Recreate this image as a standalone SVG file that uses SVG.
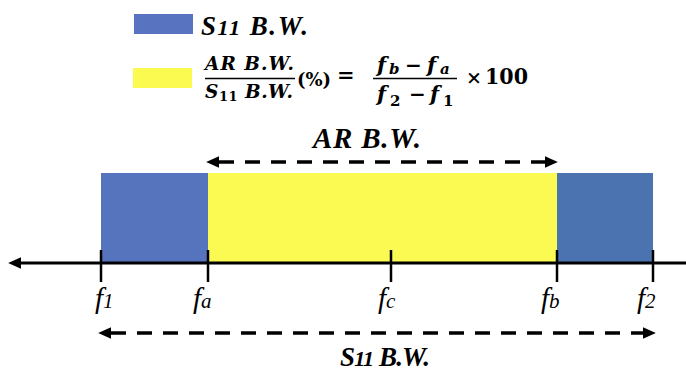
<svg xmlns="http://www.w3.org/2000/svg" width="686" height="371" viewBox="0 0 686 371">
  <style>
    .lbl { font-family: "Liberation Serif", "Times New Roman", serif; font-style: italic; font-weight: bold; fill: #000; }
    .tick-lbl { font-family: "Liberation Serif", "Times New Roman", serif; font-style: italic; font-weight: normal; fill: #000; }
    .math { font-family: "DejaVu Serif", serif; font-weight: bold; fill: #000; }
    .mi { font-style: italic; }
    .tick { stroke: #000; stroke-width: 2.5; }
    .dash { stroke: #000; stroke-width: 3.5; stroke-dasharray: 15 11; fill: none; }
    .bar { stroke: #000; stroke-width: 1.5; }
  </style>
  <defs>
    <marker id="head" markerUnits="userSpaceOnUse" markerWidth="14" markerHeight="14" viewBox="0 -6 12 12" refX="0" refY="0" orient="auto-start-reverse">
      <path d="M0,-5 L11,0 L0,5 Z" fill="#000"/>
    </marker>
  </defs>

  <!-- legend -->
  <g id="legend-s11">
    <rect x="134" y="14" width="59" height="20" fill="#5873C0"/>
    <text class="lbl" x="201" y="35" font-size="27" textLength="107" lengthAdjust="spacing">S<tspan font-size="22">11</tspan> B.W.</text>
  </g>
  <g id="legend-ar">
    <rect x="133" y="68" width="59" height="20" fill="#FAFA50"/>
    <g id="formula">
      <text class="math mi" x="205" y="70" font-size="18.5" textLength="89" lengthAdjust="spacing">AR B.W.</text>
      <line class="bar" x1="205" y1="78.5" x2="295" y2="78.5"/>
      <text class="math" x="205" y="98" font-size="18.5" textLength="88" lengthAdjust="spacing"><tspan class="mi">S</tspan><tspan font-size="13" dy="3">11</tspan><tspan class="mi" dy="-3"> B.W.</tspan></text>
      <text class="math" x="297" y="86" font-size="18" font-weight="normal">(%)</text>
      <text class="math" x="337" y="82" font-size="21" font-weight="normal">=</text>
      <text class="math mi" x="377" y="72" font-size="21">f</text>
      <text class="math mi" x="389" y="74" font-size="15">b</text>
      <text class="math" x="405" y="72" font-size="20">−</text>
      <text class="math mi" x="427" y="72" font-size="21">f</text>
      <text class="math mi" x="440" y="74" font-size="15">a</text>
      <line class="bar" x1="373" y1="78.5" x2="457" y2="78.5"/>
      <text class="math mi" x="377" y="101" font-size="21">f</text>
      <text class="math" x="390" y="106" font-size="15">2</text>
      <text class="math" x="409" y="101" font-size="20">−</text>
      <text class="math mi" x="430" y="101" font-size="21">f</text>
      <text class="math" x="443" y="106" font-size="15">1</text>
      <text class="math" x="466" y="84" font-size="19" font-weight="normal">×</text>
      <text class="math" x="485" y="84" font-size="23" textLength="43" lengthAdjust="spacingAndGlyphs">100</text>
    </g>
  </g>

  <!-- bands -->
  <g id="band-left"><rect x="101" y="173" width="107" height="89" fill="#5673BE"/></g>
  <g id="band-ar"><rect x="208" y="173" width="349" height="89" fill="#FAFA53"/></g>
  <g id="band-right"><rect x="557" y="173" width="96" height="89" fill="#4B73B0"/></g>

  <!-- axis -->
  <g id="axis">
    <line x1="21" y1="263" x2="686" y2="263" stroke="#000" stroke-width="3" marker-start="url(#head)"/>
    <line class="tick" x1="101" y1="250" x2="101" y2="282"/>
    <line class="tick" x1="208" y1="250" x2="208" y2="282"/>
    <line class="tick" x1="391" y1="250" x2="391" y2="282"/>
    <line class="tick" x1="557" y1="250" x2="557" y2="282"/>
    <line class="tick" x1="653" y1="250" x2="653" y2="282"/>
  </g>

  <!-- tick labels -->
  <g id="label-f1"><text class="tick-lbl" x="95" y="308" font-size="29">f<tspan font-size="21">1</tspan></text></g>
  <g id="label-fa"><text class="tick-lbl" x="193" y="308" font-size="29">f<tspan font-size="21">a</tspan></text></g>
  <g id="label-fc"><text class="tick-lbl" x="378" y="308" font-size="29">f<tspan font-size="21">c</tspan></text></g>
  <g id="label-fb"><text class="tick-lbl" x="541" y="308" font-size="29">f<tspan font-size="21">b</tspan></text></g>
  <g id="label-f2"><text class="tick-lbl" x="637" y="308" font-size="29">f<tspan font-size="21">2</tspan></text></g>

  <!-- connectors -->
  <g id="connectors">
    <line class="dash" x1="219" y1="162" x2="545" y2="162" marker-start="url(#head)" marker-end="url(#head)"/>
    <line class="dash" x1="111" y1="333" x2="643" y2="333" marker-start="url(#head)" marker-end="url(#head)"/>
  </g>

  <g id="label-ar"><text class="lbl" x="313" y="148" font-size="29" textLength="108" lengthAdjust="spacing">AR B.W.</text></g>
  <g id="label-s11"><text class="lbl" x="340" y="366" font-size="27" textLength="90" lengthAdjust="spacing">S<tspan font-size="22">11</tspan> B.W.</text></g>
</svg>
